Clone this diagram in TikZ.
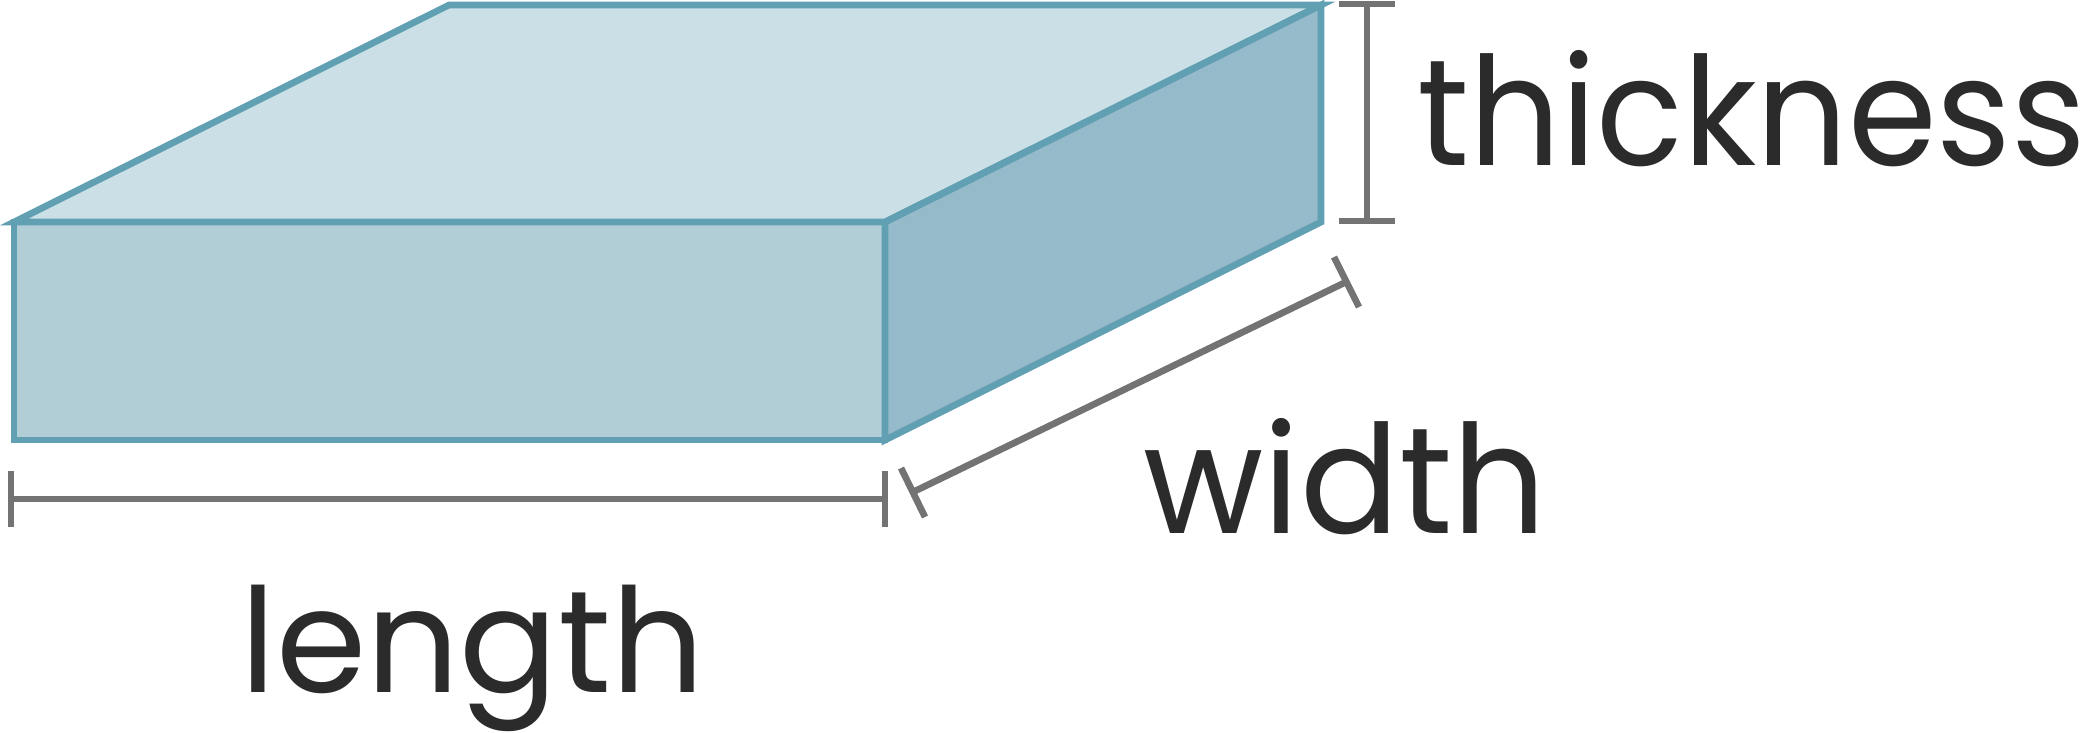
\documentclass[tikz,border=0pt]{standalone}
\usepackage{fontspec}
\setmainfont{Poppins}
\definecolor{edgeteal}{HTML}{619FB3}
\definecolor{topface}{HTML}{CAE0E6}
\definecolor{frontface}{HTML}{B1CDD6}
\definecolor{sideface}{HTML}{95BAC9}
\definecolor{dimgrey}{HTML}{737373}
\definecolor{labeltext}{HTML}{2B2B2B}
\tikzset{
  face/.style={draw=edgeteal,line width=1.9pt,line join=miter,miter limit=10},
  dimline/.style={draw=dimgrey,line width=1.9pt},
  lab/.style={text=labeltext,inner sep=0pt,font=\fontsize{43}{50}\selectfont,anchor=base west}
}
\begin{document}
\begin{tikzpicture}[x=0.01cm,y=-0.01cm]
\useasboundingbox (0,0) rectangle (2091,732);
\coordinate (ftl) at (14,222);
\coordinate (ftr) at (885,222);
\coordinate (fbr) at (885,440);
\coordinate (fbl) at (14,440);
\coordinate (btl) at (449,5);
\coordinate (btr) at (1321,5);
\coordinate (bbr) at (1321,222);
\fill[topface] (ftl)--(btl)--(btr)--(ftr)--cycle;
\fill[frontface] (ftl)--(ftr)--(fbr)--(fbl)--cycle;
\fill[sideface] (ftr)--(btr)--(bbr)--(fbr)--cycle;
\draw[face] (ftl)--(btl)--(btr)--(ftr)--cycle;
\draw[face] (ftl)--(ftr)--(fbr)--(fbl)--cycle;
\draw[face] (ftr)--(btr)--(bbr)--(fbr)--cycle;
% thickness
\coordinate (ta) at (1339,4); \coordinate (tb) at (1395,4);
\coordinate (tc) at (1339,221); \coordinate (td) at (1395,221);
\coordinate (tm1) at (1367,4); \coordinate (tm2) at (1367,221);
\draw[dimline] (ta)--(tb); \draw[dimline] (tc)--(td); \draw[dimline] (tm1)--(tm2);
% length
\coordinate (la) at (11,471); \coordinate (lb) at (11,527);
\coordinate (lc) at (885,471); \coordinate (ld) at (885,527);
\coordinate (lm1) at (11,499); \coordinate (lm2) at (885,499);
\draw[dimline] (la)--(lb); \draw[dimline] (lc)--(ld); \draw[dimline] (lm1)--(lm2);
% width
\coordinate (wa) at (901,468); \coordinate (wb) at (925,517);
\coordinate (wc) at (1334,257); \coordinate (wd) at (1359,307);
\coordinate (wm1) at (913,492); \coordinate (wm2) at (1346,282);
\draw[dimline] (wa)--(wb); \draw[dimline] (wc)--(wd); \draw[dimline] (wm1)--(wm2);
\node[lab] (thickness) at (1417,165) {\scalebox{0.945}[1]{thickness}};
\node[lab] (width) at (1143,533) {\scalebox{0.97}[1]{width}};
\node[lab] (length) at (240,692) {\scalebox{0.962}[0.96]{length}};
\end{tikzpicture}
\end{document}
